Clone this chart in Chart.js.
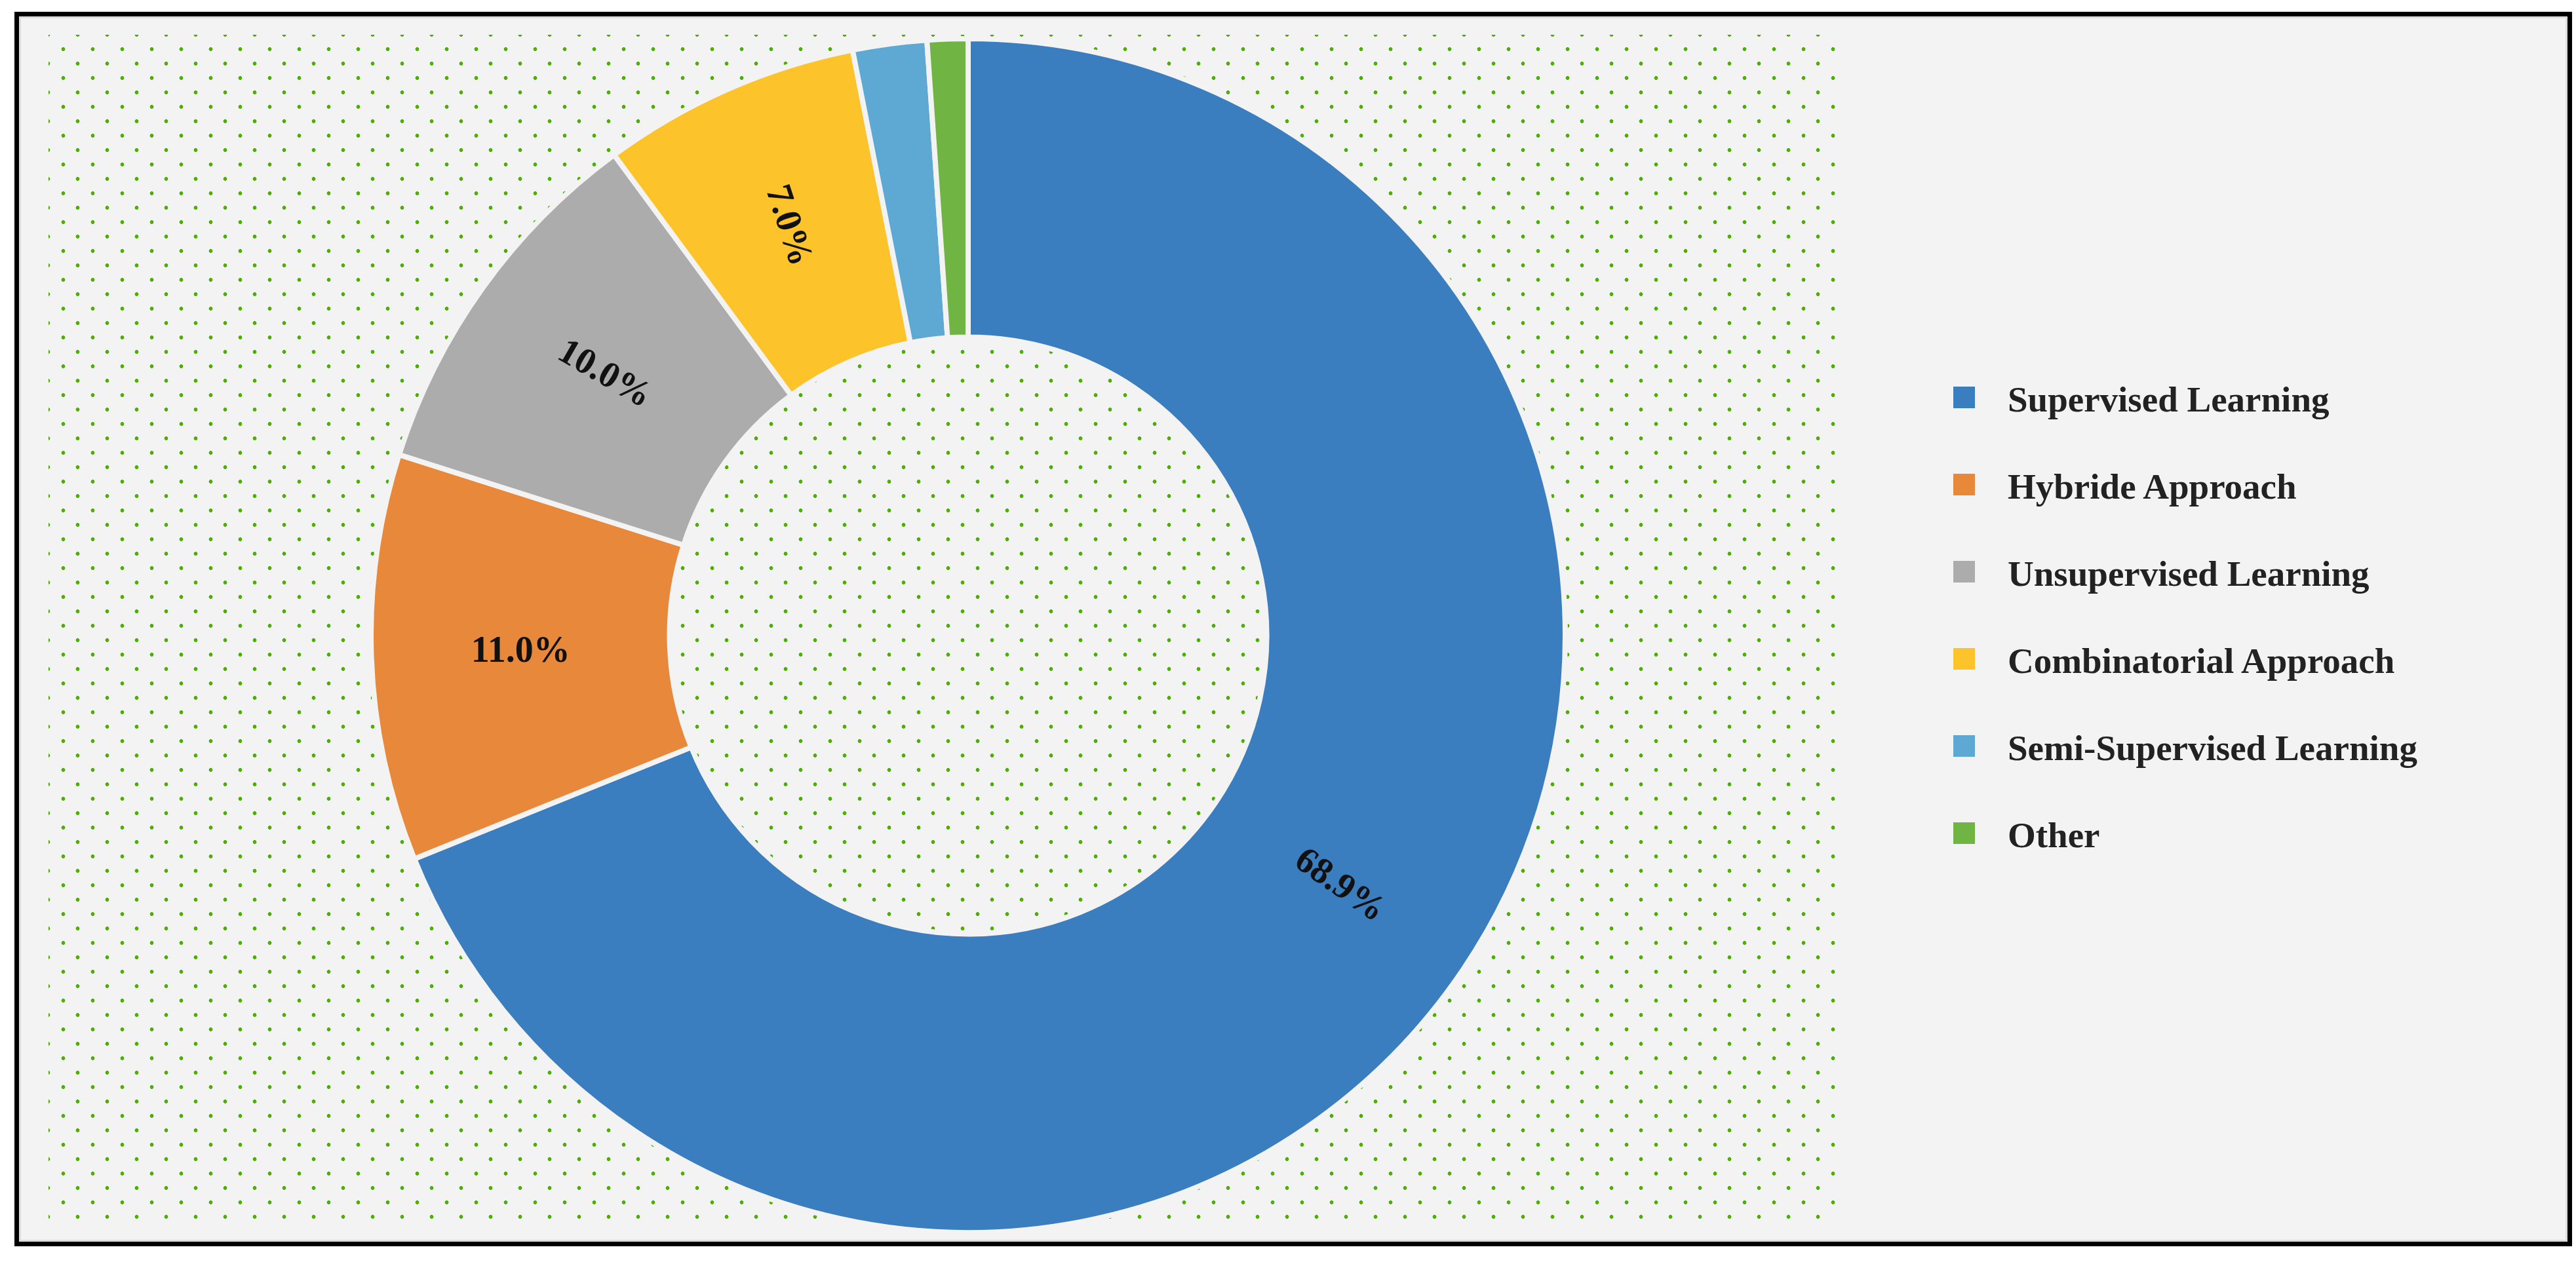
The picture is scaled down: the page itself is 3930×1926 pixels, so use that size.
<!DOCTYPE html>
<html>
<head>
<meta charset="utf-8">
<script src="https://cdn.jsdelivr.net/npm/chart.js@4"></script>
<style>
  body { margin: 0; width: 3930px; height: 1926px; background: #fff; position: relative; overflow: hidden; }
  #frame { position: absolute; left: 22px; top: 18px; width: 3888px; height: 1870px; border: 7px solid #000; background: #f3f3f3; box-shadow: inset 0 0 0 3px #ddd; }
  #dots { position: absolute; left: 45px; top: 28px; width: 2740px; height: 1820px;
    background-image: radial-gradient(circle, #4cb000 2.6px, transparent 3.2px), radial-gradient(circle, #4cb000 2.6px, transparent 3.2px);
    background-size: 45px 44px, 45px 44px;
    background-position: 0 0, 22px 22px; }
  #wrap { position: absolute; left: 562px; top: 55px; width: 1830px; height: 1830px; }
  #legend { position: absolute; left: 2980px; top: 578px; font-family: "Liberation Serif", serif; font-weight: bold; font-size: 55px; color: #222; }
  .item { height: 133px; display: flex; align-items: flex-start; }
  .sw { width: 33px; height: 33px; margin-top: 12px; margin-right: 50px; }
</style>
</head>
<body>
<div id="frame"><div id="dots"></div></div>
<div id="wrap"><canvas id="chart"></canvas></div>
<div id="legend"></div>
<script>
const categories = ["Supervised Learning", "Hybride Approach", "Unsupervised Learning", "Combinatorial Approach", "Semi-Supervised Learning", "Other"];
const values = [68.9, 11.0, 10.0, 7.0, 2.0, 1.1];
const valueLabels = ["68.9%", "11.0%", "10.0%", "7.0%", "", ""];
const colors = ["#3a7ebf", "#e8883a", "#acacac", "#fcc42a", "#5ea8d4", "#70b443"];

// rotation of the in-slice labels, degrees
const labelRotation = [35, 0, 30, 72, 0, 0];

const sliceLabels = {
  id: 'sliceLabels',
  afterDatasetsDraw(chart) {
    const ctx = chart.ctx;
    const meta = chart.getDatasetMeta(0);
    meta.data.forEach((arc, i) => {
      if (!valueLabels[i]) return;
      const p = arc.tooltipPosition();
      ctx.save();
      ctx.translate(p.x, p.y);
      ctx.rotate(labelRotation[i] * Math.PI / 180);
      ctx.font = 'bold 56px "Liberation Serif", serif';
      ctx.fillStyle = '#111';
      ctx.textAlign = 'center';
      ctx.textBaseline = 'middle';
      ctx.fillText(valueLabels[i], 0, 0);
      ctx.restore();
    });
  }
};

new Chart(document.getElementById('chart'), {
  type: 'doughnut',
  data: {
    labels: categories,
    datasets: [{
      data: values,
      backgroundColor: colors,
      borderColor: '#f3f3f3',
      borderWidth: 8
    }]
  },
  options: {
    responsive: true,
    maintainAspectRatio: false,
    devicePixelRatio: 1,
    animation: false,
    cutout: '50%',
    layout: { padding: 0 },
    plugins: { legend: { display: false }, tooltip: { enabled: false } }
  },
  plugins: [sliceLabels]
});

const legend = document.getElementById('legend');
categories.forEach((c, i) => {
  const row = document.createElement('div');
  row.className = 'item';
  row.innerHTML = '<div class="sw" style="background:' + colors[i] + '"></div><div>' + c + '</div>';
  legend.appendChild(row);
});
</script>
</body>
</html>
